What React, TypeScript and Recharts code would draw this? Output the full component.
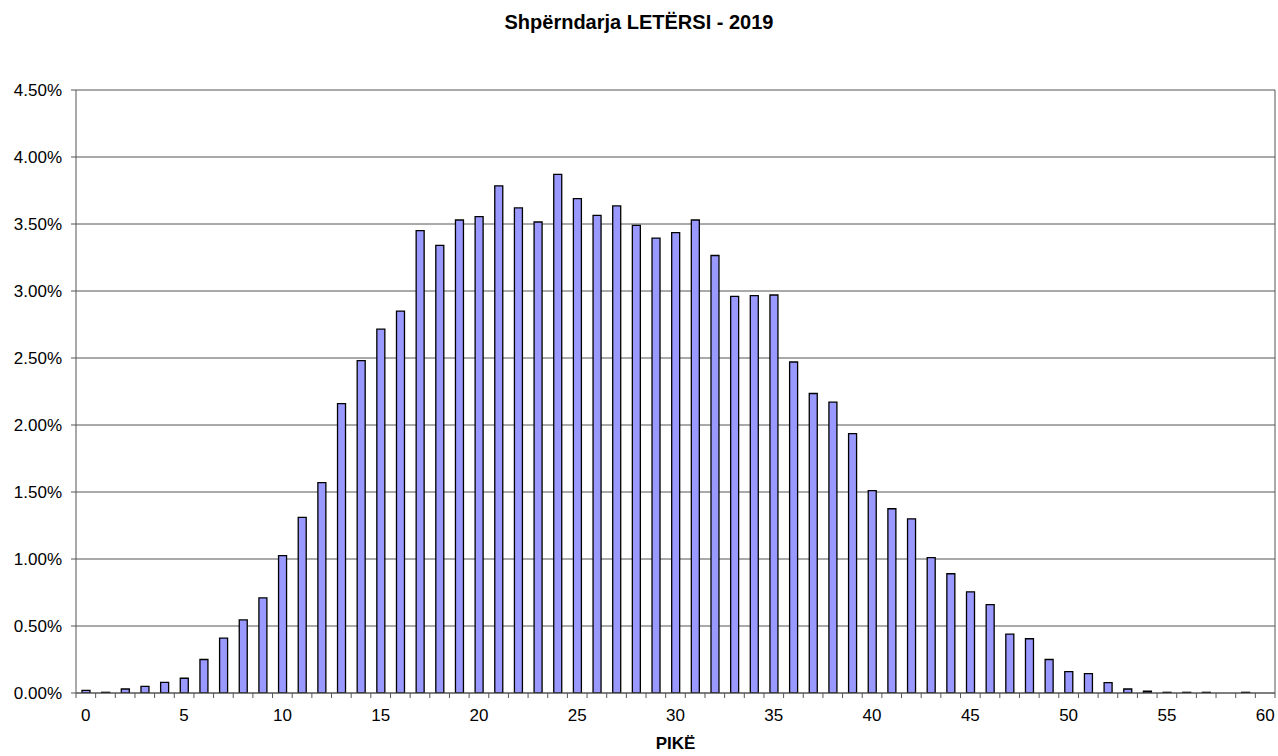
import { BarChart, Bar, XAxis, YAxis, CartesianGrid, ReferenceLine } from 'recharts';

if (typeof document !== 'undefined') document.body.style.margin = '0';

const TITLE = 'Shpërndarja LETËRSI - 2019';
const X_TITLE = 'PIKË';

const SCORES = [
  0, 1, 2, 3, 4, 5, 6, 7, 8, 9, 10, 11, 12, 13, 14, 15, 16, 17, 18, 19, 20,
  21, 22, 23, 24, 25, 26, 27, 28, 29, 30, 31, 32, 33, 34, 35, 36, 37, 38, 39, 40,
  41, 42, 43, 44, 45, 46, 47, 48, 49, 50, 51, 52, 53, 54, 55, 56, 57, 58, 59, 60,
];

// share of students per score, in %
const SHARE = [
  0.02, 0.005, 0.03, 0.05, 0.08, 0.11, 0.25, 0.41, 0.545, 0.71, 1.025,
  1.31, 1.57, 2.16, 2.48, 2.715, 2.85, 3.45, 3.34, 3.53, 3.555,
  3.785, 3.62, 3.515, 3.87, 3.69, 3.565, 3.635, 3.49, 3.395, 3.435,
  3.53, 3.265, 2.96, 2.965, 2.97, 2.47, 2.235, 2.17, 1.935, 1.51,
  1.375, 1.3, 1.01, 0.89, 0.755, 0.66, 0.44, 0.405, 0.25, 0.16,
  0.145, 0.077, 0.03, 0.013, 0.005, 0.005, 0.005, 0, 0.005, 0,
];

const Y_TICKS = [0, 0.5, 1, 1.5, 2, 2.5, 3, 3.5, 4, 4.5];
const X_LABELS = [0, 5, 10, 15, 20, 25, 30, 35, 40, 45, 50, 55, 60];

const data = SCORES.map((s, i) => ({ score: s, share: SHARE[i] }));

// small ticks sit between the bars, labels sit under every 5th bar
const boundaries = [SCORES[0] - 0.5, ...SCORES.map((s) => s + 0.5)];
const xTicks = [...boundaries, ...X_LABELS].sort((a, b) => a - b);

const FONT = 'Arial, "Liberation Sans", sans-serif';

function XTick(props: any) {
  const { x, y, payload } = props;
  const v = payload.value;
  if (Number.isInteger(v)) {
    return (
      <text x={x} y={y + 28} textAnchor="middle" fontSize={17} fontFamily={FONT} fill="#000">
        {v}
      </text>
    );
  }
  return <line x1={x} x2={x} y1={y} y2={y + 5} stroke="#555" />;
}

export default function App() {
  return (
    <div style={{ position: 'relative', width: 1278, height: 756, background: '#fff' }}>
      <div
        style={{
          position: 'absolute',
          top: 11,
          left: 0,
          width: 1278,
          textAlign: 'center',
          fontFamily: FONT,
          fontWeight: 'bold',
          fontSize: 20,
        }}
      >
        {TITLE}
      </div>
      <BarChart
        width={1278}
        height={756}
        data={data}
        margin={{ top: 90, right: 3, bottom: 0, left: 0 }}
      >
        <CartesianGrid vertical={false} stroke="#555" />
        <XAxis
          dataKey="score"
          type="number"
          domain={[-0.5, 60.5]}
          ticks={xTicks}
          interval={0}
          tick={<XTick />}
          tickLine={false}
          tickSize={0}
          tickMargin={0}
          axisLine={{ stroke: '#555' }}
          height={63}
          allowDataOverflow
          label={{
            value: X_TITLE,
            position: 'insideBottom',
            offset: 7,
            style: { fontFamily: FONT, fontWeight: 'bold', fontSize: 17, fill: '#000' },
          }}
        />
        <YAxis
          domain={[0, 4.5]}
          ticks={Y_TICKS}
          tickFormatter={(v: number) => `${v.toFixed(2)}%`}
          width={76}
          tickSize={5}
          tickMargin={9}
          tickLine={{ stroke: '#555' }}
          axisLine={{ stroke: '#555' }}
          tick={{ fontSize: 17, fontFamily: FONT, fill: '#000' }}
          allowDataOverflow
        />
        <ReferenceLine x={60.5} stroke="#555" />
        <Bar
          dataKey="share"
          fill="#9999ff"
          stroke="#000"
          strokeWidth={1.3}
          barSize={8}
          isAnimationActive={false}
        />
      </BarChart>
    </div>
  );
}
